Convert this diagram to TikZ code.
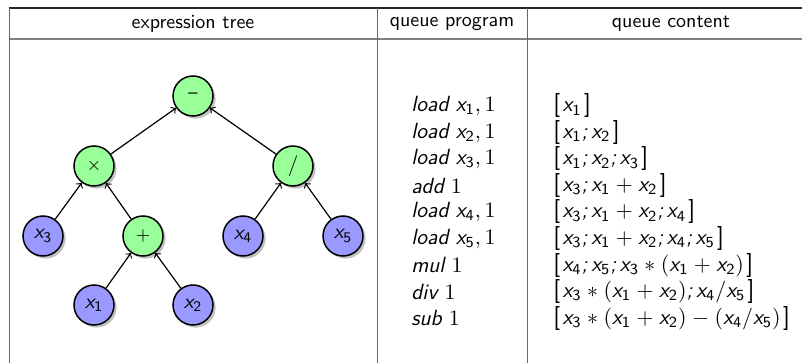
\documentclass[tikz,border=0pt]{standalone}
\usepackage{amsmath}
\usepackage{fontspec}
\usetikzlibrary{shadows}
% sans-serif slanted variables with sans subscripts
\newcommand{\vx}[1]{\text{\sffamily\slshape x}_{\text{\sffamily #1}}}
\newcommand{\opname}[1]{\text{\sffamily\slshape #1}}
\newcommand{\qsep}{\text{\sffamily\slshape ;}\,}
% queue brackets
\newcommand{\qopen}{\mathopen{\text{\fontsize{12}{12}\selectfont[}}\mkern2mu}
\newcommand{\qclose}{\mkern2mu\mathclose{\text{\fontsize{12}{12}\selectfont]}}}
% slightly wider spacing around relations
\newcommand{\widemath}{\medmuskip=4.5mu\relax\thickmuskip=5mu\relax}
\definecolor{opgreen}{RGB}{153,255,153}
\definecolor{varblue}{RGB}{153,153,255}
\tikzset{
  treenode/.style={circle, draw=black, line width=0.75pt, minimum size=20pt, inner sep=0pt,
    font=\sffamily\fontsize{10.5}{12}\selectfont,
    drop shadow={shadow xshift=1.3pt, shadow yshift=-1.3pt, opacity=0.4, fill=black!60}},
  opnode/.style={treenode, fill=opgreen},
  varnode/.style={treenode, fill=varblue},
  edge/.style={->, line width=0.6pt},
  header/.style={font=\sffamily\fontsize{10}{12}\selectfont},
  row/.style={anchor=west, inner sep=0pt, font=\sffamily\fontsize{11}{13}\selectfont},
  rule/.style={line width=0.5pt, draw=black!60}
}
\begin{document}
\begin{tikzpicture}[x=0.5pt, y=-0.5pt]
\useasboundingbox (0,0) rectangle (802,363);
% table frame
\draw[line width=0.6pt, black!85] (9,8) -- (802,8);
\draw[line width=1pt, black!50] (9,39) -- (802,39);
\draw[rule] (9,8) -- (9,363);
\draw[rule] (377,8) -- (377,363);
\draw[rule] (527,8) -- (527,363);
% column headers
\node[header] (h1) at (193,24) {expression tree};
\node[header] (h2) at (452,24) {queue program};
\node[header] (h3) at (671,24) {queue content};
% expression tree
\node[opnode] (sub) at (193,96) {\fontsize{9}{10}\selectfont --};
\node[opnode] (mul) at (94,166) {\fontsize{9}{10}\selectfont ×};
\node[opnode] (div) at (293,166) {/};
\node[varnode] (x3) at (43,236) {$\vx3$};
\node[opnode] (add) at (143,236) {\fontsize{9}{10}\selectfont +};
\node[varnode] (x4) at (243,236) {$\vx4$};
\node[varnode] (x5) at (343,236) {$\vx5$};
\node[varnode] (x1) at (94,305) {$\vx1$};
\node[varnode] (x2) at (193,305) {$\vx2$};
\draw[edge] (mul) -- (sub);
\draw[edge] (div) -- (sub);
\draw[edge] (x3) -- (mul);
\draw[edge] (add) -- (mul);
\draw[edge] (x4) -- (div);
\draw[edge] (x5) -- (div);
\draw[edge] (x1) -- (add);
\draw[edge] (x2) -- (add);
% queue program
\node[row] (p1) at (411,106) {$\opname{load}\ \vx1,1$};
\node[row] (p2) at (411,132.5) {$\opname{load}\ \vx2,1$};
\node[row] (p3) at (411,159) {$\opname{load}\ \vx3,1$};
\node[row] (p4) at (411,185.5) {$\opname{add}\ 1$};
\node[row] (p5) at (411,212) {$\opname{load}\ \vx4,1$};
\node[row] (p6) at (411,238.5) {$\opname{load}\ \vx5,1$};
\node[row] (p7) at (411,265) {$\opname{mul}\ 1$};
\node[row] (p8) at (411,291.5) {$\opname{div}\ 1$};
\node[row] (p9) at (411,318) {$\opname{sub}\ 1$};
% queue content
\node[row] (c1) at (553,106) {$\widemath\qopen\vx1\qclose$};
\node[row] (c2) at (553,132.5) {$\widemath\qopen\vx1\qsep\vx2\qclose$};
\node[row] (c3) at (553,159) {$\widemath\qopen\vx1\qsep\vx2\qsep\vx3\qclose$};
\node[row] (c4) at (553,185.5) {$\widemath\qopen\vx3\qsep\vx1+\vx2\qclose$};
\node[row] (c5) at (553,212) {$\widemath\qopen\vx3\qsep\vx1+\vx2\qsep\vx4\qclose$};
\node[row] (c6) at (553,238.5) {$\widemath\qopen\vx3\qsep\vx1+\vx2\qsep\vx4\qsep\vx5\qclose$};
\node[row] (c7) at (553,265) {$\widemath\qopen\vx4\qsep\vx5\qsep\vx3\ast(\vx1+\vx2)\qclose$};
\node[row] (c8) at (553,291.5) {$\widemath\qopen\vx3\ast(\vx1+\vx2)\qsep\vx4/\vx5\qclose$};
\node[row] (c9) at (553,318) {$\widemath\qopen\vx3\ast(\vx1+\vx2)-(\vx4/\vx5)\qclose$};
\end{tikzpicture}
\end{document}
